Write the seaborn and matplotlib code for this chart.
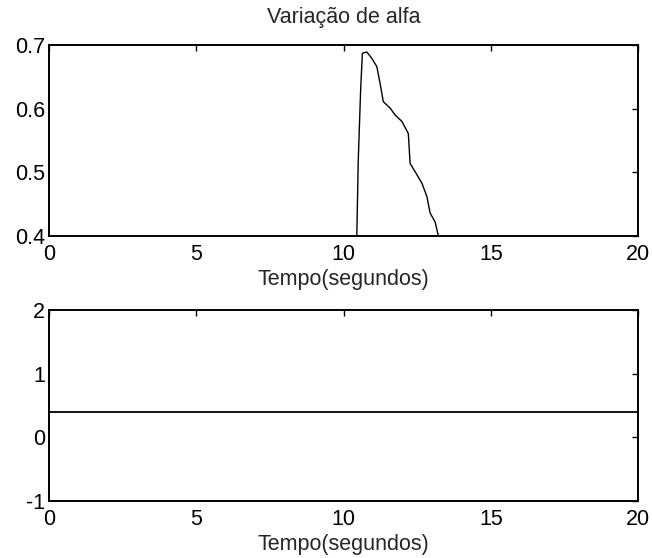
import matplotlib
matplotlib.use("Agg")
import matplotlib.pyplot as plt
import seaborn as sns
import numpy as np
import pandas as pd

# --- data ---
tempo_alfa = [10.45, 10.50, 10.58, 10.64, 10.79, 10.96, 11.13, 11.24, 11.35, 11.58,
              11.75, 11.98, 12.20, 12.26, 12.43, 12.66, 12.83, 12.94, 13.11, 13.22]
alfa = [0.400, 0.519, 0.629, 0.687, 0.689, 0.679, 0.666, 0.640, 0.611, 0.601,
        0.590, 0.580, 0.561, 0.514, 0.501, 0.483, 0.462, 0.436, 0.422, 0.400]
tempo_b = [0, 20]
valor_b = [0.4, 0.4]

x_ticks = [0, 5, 10, 15, 20]
y_ticks_top = [0.4, 0.5, 0.6, 0.7]
y_ticks_bottom = [-1, 0, 1, 2]

title = "Variação de alfa"
xlabel = "Tempo(segundos)"

sns.set_style("white")
plt.rcParams["font.family"] = ["Liberation Sans", "DejaVu Sans"]

fig = plt.figure(figsize=(6.52, 5.58), dpi=100)
ax1 = fig.add_axes([0.0752, 0.5771, 0.9034, 0.3423])
ax2 = fig.add_axes([0.0752, 0.1022, 0.9034, 0.3423])

df1 = pd.DataFrame({"t": tempo_alfa, "a": alfa})
df2 = pd.DataFrame({"t": tempo_b, "v": valor_b})

sns.lineplot(data=df1, x="t", y="a", ax=ax1, color="black", linewidth=1.0,
             estimator=None, sort=False)
sns.lineplot(data=df2, x="t", y="v", ax=ax2, color="black", linewidth=1.3,
             estimator=None, sort=False)

fs = 15.5
for ax, yt, ylim in [(ax1, y_ticks_top, (0.4, 0.7)), (ax2, y_ticks_bottom, (-1, 2))]:
    ax.set_xlim(0, 20)
    ax.set_ylim(*ylim)
    ax.set_xticks(x_ticks)
    ax.set_yticks(yt)
    ax.set_xticklabels([str(v) for v in x_ticks])
    ax.set_yticklabels([("%g" % v) for v in yt])
    ax.tick_params(direction="in", length=4, width=1, top=True, right=True,
                   labelsize=fs, colors="black")
    ax.tick_params(axis="x", pad=5.5)
    ax.tick_params(axis="y", pad=3)
    for s in ax.spines.values():
        s.set_visible(True)
        s.set_color("black")
        s.set_linewidth(1.4)
    ax.set_xlabel(xlabel, fontsize=fs, labelpad=3)
    ax.set_ylabel("")

ax1.set_title(title, fontsize=fs, pad=16)

fig.savefig("out.png", dpi=100, facecolor="white")
